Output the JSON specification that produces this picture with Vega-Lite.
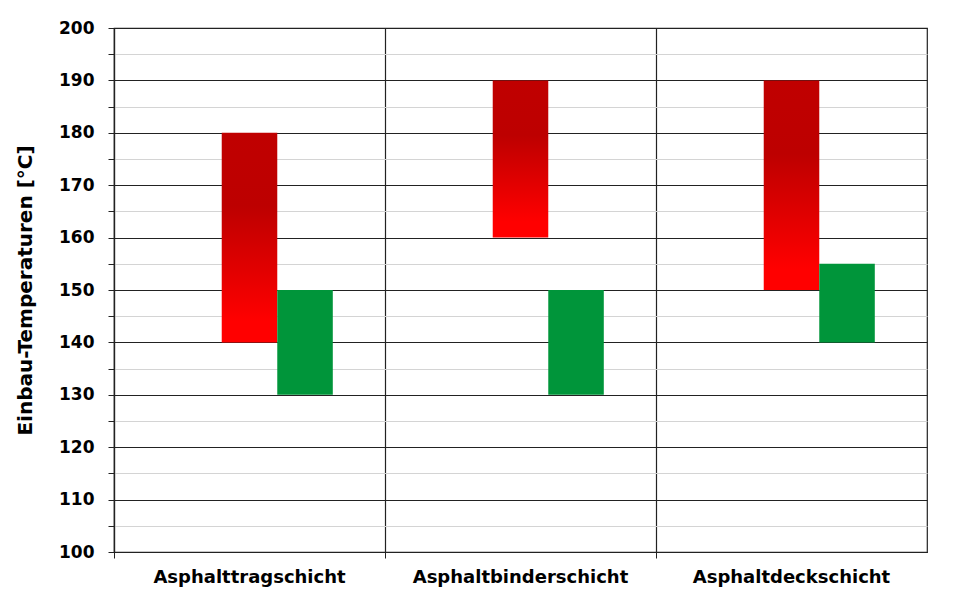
{
  "$schema": "https://vega.github.io/schema/vega-lite/v6.json",
  "width": 813,
  "height": 524,
  "autosize": {"type": "none"},
  "padding": {"left": 114, "top": 28, "right": 35, "bottom": 55},
  "background": "white",
  "config": {
    "view": {"stroke": "#222222", "strokeWidth": 1.2},
    "font": "DejaVu Sans"
  },
  "data": {
    "values": [
      {"Schicht": "Asphalttragschicht", "Serie": "rot", "von": 140, "bis": 180},
      {"Schicht": "Asphalttragschicht", "Serie": "gruen", "von": 130, "bis": 150},
      {"Schicht": "Asphaltbinderschicht", "Serie": "rot", "von": 160, "bis": 190},
      {"Schicht": "Asphaltbinderschicht", "Serie": "gruen", "von": 130, "bis": 150},
      {"Schicht": "Asphaltdeckschicht", "Serie": "rot", "von": 150, "bis": 190},
      {"Schicht": "Asphaltdeckschicht", "Serie": "gruen", "von": 140, "bis": 155}
    ]
  },
  "encoding": {
    "x": {
      "field": "Schicht",
      "type": "nominal",
      "sort": ["Asphalttragschicht", "Asphaltbinderschicht", "Asphaltdeckschicht"],
      "scale": {"paddingInner": 0, "paddingOuter": 0},
      "axis": {
        "title": null,
        "bandPosition": 0,
        "labelAngle": 0,
        "labelLimit": 0,
        "labelFontSize": 18,
        "labelFontWeight": "bold",
        "labelColor": "black",
        "labelPadding": 10,
        "grid": true,
        "gridColor": "#222222",
        "gridWidth": 1.2,
        "ticks": true,
        "tickSize": 6,
        "tickColor": "#222222",
        "domainColor": "#222222",
        "domainWidth": 1.2
      }
    },
    "xOffset": {
      "field": "Serie",
      "type": "nominal",
      "scale": {"domain": ["leer", "rot", "gruen"], "paddingInner": 0, "paddingOuter": 0.94}
    },
    "y": {
      "field": "von",
      "type": "quantitative",
      "scale": {"domain": [100, 200], "nice": false, "zero": false},
      "axis": {
        "title": "Einbau-Temperaturen [°C]",
        "titleFontSize": 20,
        "titleFontWeight": "bold",
        "titleColor": "black",
        "titlePadding": 23,
        "values": [100, 105, 110, 115, 120, 125, 130, 135, 140, 145, 150, 155, 160, 165, 170, 175, 180, 185, 190, 195, 200],
        "labelExpr": "datum.value % 10 === 0 ? datum.label : ''",
        "labelFontSize": 17,
        "labelFontWeight": "bold",
        "labelColor": "black",
        "labelPadding": 14,
        "grid": true,
        "gridColor": {"condition": {"test": "datum.value % 10 === 0", "value": "#222222"}, "value": "#d4d4d4"},
        "gridWidth": 1.2,
        "tickSize": 6,
        "tickColor": "#222222",
        "domainColor": "#222222",
        "domainWidth": 1.2
      }
    },
    "y2": {"field": "bis"}
  },
  "layer": [
    {
      "transform": [{"filter": "datum.Serie === 'rot'"}],
      "mark": {
        "type": "bar",
        "fill": {
          "gradient": "linear",
          "x1": 0, "y1": 0, "x2": 0, "y2": 1,
          "stops": [
            {"offset": 0, "color": "#C00000"},
            {"offset": 0.35, "color": "#BD0000"},
            {"offset": 0.9, "color": "#FF0000"},
            {"offset": 1, "color": "#FF0000"}
          ]
        },
        "strokeWidth": 0
      }
    },
    {
      "transform": [{"filter": "datum.Serie === 'gruen'"}],
      "mark": {"type": "bar", "fill": "#00953A", "strokeWidth": 0}
    }
  ]
}
